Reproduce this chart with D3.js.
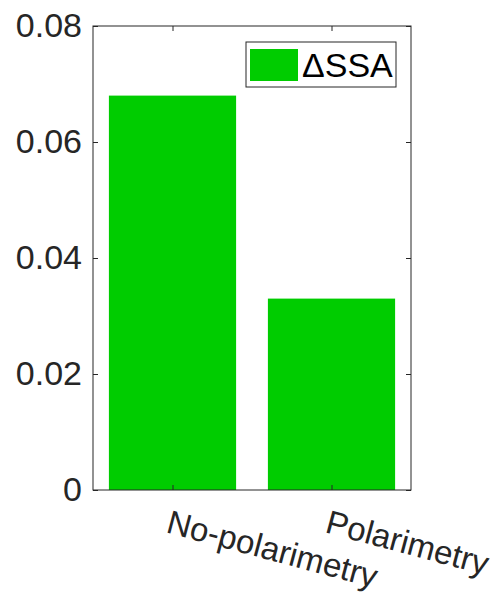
<!DOCTYPE html>
<html>
  <head>
    <meta charset="utf-8">
    <title>Delta SSA bar chart</title>
    <script src="https://d3js.org/d3.v7.min.js"></script>
    <style>
      body { margin: 0; background: white; }
      text { font-family: "Liberation Sans", Arial, Helvetica, sans-serif; }
    </style>
  </head>
  <body>
    <svg width="502" height="595"></svg>
    <script>
      var categories = ["No-polarimetry", "Polarimetry"];
      var values = [0.068, 0.033];
      var yTicks = [0, 0.02, 0.04, 0.06, 0.08];
      var seriesName = "\u0394SSA";

      var margin = {top: 26, right: 91, bottom: 105, left: 93},
          width = 502 - margin.left - margin.right,
          height = 595 - margin.top - margin.bottom;

      var green = "#00cc00",
          axisColor = "#262626";

      var svg = d3.select("svg")
        .append("g")
          .attr("transform", "translate(" + margin.left + "," + margin.top + ")");

      // categories sit at 1 and 2 on a 0.5..2.5 axis, bars 0.8 wide
      var x = d3.scaleLinear()
          .domain([0.5, categories.length + 0.5])
          .range([0, width]);

      var y = d3.scaleLinear()
          .domain([0, 0.08])
          .range([height, 0]);

      var barW = x(1.4) - x(0.6);

      svg.selectAll(".bar")
          .data(values)
          .enter().append("rect")
          .attr("class", "bar")
          .attr("x", function(d, i) { return x(i + 1) - barW / 2; })
          .attr("y", function(d) { return y(d); })
          .attr("width", barW)
          .attr("height", function(d) { return height - y(d); })
          .attr("fill", green);

      // box
      svg.append("rect")
          .attr("width", width)
          .attr("height", height)
          .attr("fill", "none")
          .attr("stroke", axisColor)
          .attr("stroke-width", 1);

      var xTickVals = categories.map(function(c, i) { return i + 1; });

      // y axis left, ticks inward
      var yAxis = svg.append("g")
          .call(d3.axisLeft(y).tickValues(yTicks).tickSize(-5).tickPadding(11)
            .tickFormat(function(d) { return d === 0 ? "0" : d3.format(".2f")(d); }));
      yAxis.select(".domain").remove();
      yAxis.selectAll("line").attr("stroke", axisColor);
      yAxis.selectAll("text")
          .attr("fill", axisColor)
          .style("font-size", "34px");

      // right side ticks
      var yRight = svg.append("g")
          .attr("transform", "translate(" + width + ",0)")
          .call(d3.axisRight(y).tickValues(yTicks).tickSize(-5).tickFormat(""));
      yRight.select(".domain").remove();
      yRight.selectAll("line").attr("stroke", axisColor);

      // x axis bottom, ticks inward, rotated labels
      var xAxis = svg.append("g")
          .attr("transform", "translate(0," + height + ")")
          .call(d3.axisBottom(x).tickValues(xTickVals).tickSize(-5)
            .tickFormat(function(d) { return categories[d - 1]; }));
      xAxis.select(".domain").remove();
      xAxis.selectAll("line").attr("stroke", axisColor);
      xAxis.selectAll("text")
          .attr("fill", axisColor)
          .style("font-size", "33px")
          .attr("text-anchor", "start")
          .attr("dy", null)
          .attr("y", 0)
          .attr("transform", "translate(-8,42) rotate(15)");

      var xTop = svg.append("g")
          .call(d3.axisTop(x).tickValues(xTickVals).tickSize(-5).tickFormat(""));
      xTop.select(".domain").remove();
      xTop.selectAll("line").attr("stroke", axisColor);

      // legend
      var legend = svg.append("g")
          .attr("transform", "translate(" + (246 - margin.left) + "," + (42 - margin.top) + ")");
      legend.append("rect")
          .attr("width", 150)
          .attr("height", 45)
          .attr("fill", "white")
          .attr("stroke", axisColor)
          .attr("stroke-width", 1);
      legend.append("rect")
          .attr("x", 4)
          .attr("y", 7)
          .attr("width", 48)
          .attr("height", 32)
          .attr("fill", green);
      legend.append("text")
          .attr("x", 56)
          .attr("y", 35)
          .attr("fill", "black")
          .style("font-size", "34px")
          .text(seriesName);
    </script>
  </body>
</html>
